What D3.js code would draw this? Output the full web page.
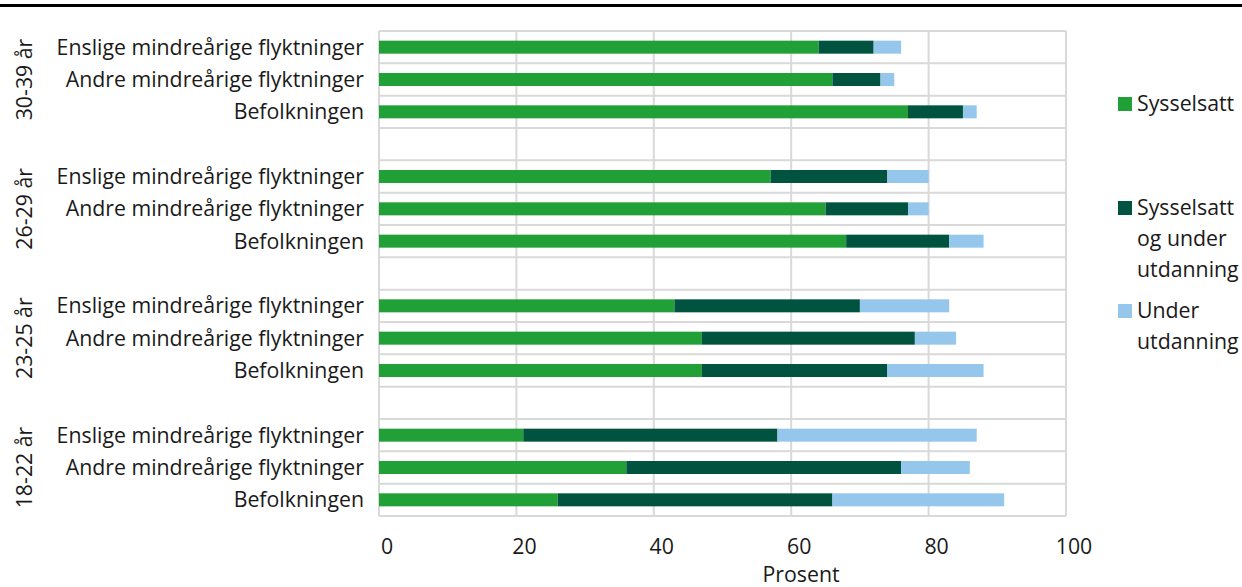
<!DOCTYPE html>
<html><head><meta charset="utf-8">
<script src="https://cdn.jsdelivr.net/npm/d3@7"></script>
<style>body{margin:0;background:#fff;}svg{display:block;font-family:"Open Sans",sans-serif;}</style>
</head><body>
<svg id="c" width="1242" height="587"></svg>
<script>
const groups = ["30-39 år","26-29 år","23-25 år","18-22 år"];
const categories = ["Enslige mindreårige flyktninger","Andre mindreårige flyktninger","Befolkningen"];
const seriesNames = ["Sysselsatt","Sysselsatt og under utdanning","Under utdanning"];
// values per group, in category order
const sysselsatt   = [[64,66,77],[57,65,68],[43,47,47],[21,36,26]];
const sysselsattUtd= [[8,7,8],[17,12,15],[27,31,27],[37,40,40]];
const underUtd     = [[4,2,2],[6,3,5],[13,6,14],[29,10,25]];
const xTicks = [0,20,40,60,80,100];
const colors = ["#21a038","#00543f","#95c6ec"];

const FS=21.3;
const svg = d3.select("#c");
// top rule
svg.append("rect").attr("x",0).attr("y",4).attr("width",1242).attr("height",3).attr("fill","#000");

const pL=379, pR=1066, pT=31, pB=516;
const x = d3.scaleLinear().domain([0,100]).range([pL,pR]);
// slots: 3 rows per group + blank separator
const slots=[];
groups.forEach((g,gi)=>{
  categories.forEach((c,ci)=>slots.push({id:g+"|"+c,g:gi,c:ci}));
  if(gi<groups.length-1) slots.push({id:"blank"+gi,blank:true});
});
const y = d3.scaleBand().domain(slots.map(s=>s.id)).range([pT,pB]).paddingInner(0).paddingOuter(0);
const bh=13;

const grid=svg.append("g").attr("stroke","#d9d9d9").attr("stroke-width",2);
const hLines=[pT].concat(slots.map(s=>y(s.id)+y.bandwidth()));
hLines.forEach(v=>grid.append("line").attr("x1",pL).attr("x2",pR).attr("y1",v).attr("y2",v));
xTicks.forEach(t=>grid.append("line").attr("x1",x(t)).attr("x2",x(t)).attr("y1",pT).attr("y2",pB));

const data=[];
slots.filter(s=>!s.blank).forEach(s=>{
  const vals=[sysselsatt[s.g][s.c],sysselsattUtd[s.g][s.c],underUtd[s.g][s.c]];
  let acc=0;
  vals.forEach((v,k)=>{data.push({id:s.id,x0:acc,x1:acc+v,k});acc+=v;});
});
svg.append("g").selectAll("rect").data(data).join("rect")
  .attr("x",d=>x(d.x0)).attr("width",d=>x(d.x1)-x(d.x0))
  .attr("y",d=>y(d.id)+y.bandwidth()/2-bh/2).attr("height",bh)
  .attr("fill",d=>colors[d.k]);

// category labels
svg.append("g").selectAll("text").data(slots.filter(s=>!s.blank)).join("text")
  .attr("x",364).attr("y",d=>y(d.id)+y.bandwidth()/2).attr("dy","0.35em")
  .attr("text-anchor","end").attr("font-size",FS).attr("fill","#1a1a1a")
  .text(d=>categories[d.c]);

// group labels
groups.forEach((g,gi)=>{
  const a=y(g+"|"+categories[0]), b=y(g+"|"+categories[2])+y.bandwidth();
  const cy=(a+b)/2;
  svg.append("text").attr("transform",`translate(25,${cy}) rotate(-90)`)
    .attr("text-anchor","middle").attr("dy","0.35em").attr("font-size",FS).attr("fill","#1a1a1a").text(g);
});

// x axis labels
svg.append("g").selectAll("text").data(xTicks).join("text")
  .attr("x",d=>x(d)+8).attr("y",547).attr("dy","0.35em").attr("text-anchor","middle")
  .attr("font-size",FS).attr("fill","#1a1a1a").text(d=>d);
svg.append("text").attr("x",801).attr("y",575).attr("dy","0.35em").attr("text-anchor","middle")
  .attr("font-size",FS).attr("fill","#1a1a1a").text("Prosent");

// legend
const legend=[
  {k:0,lines:["Sysselsatt"],y:104},
  {k:1,lines:["Sysselsatt","og under","utdanning"],y:208},
  {k:2,lines:["Under","utdanning"],y:311}
];
legend.forEach(l=>{
  svg.append("rect").attr("x",1118).attr("y",l.y-7).attr("width",14).attr("height",14).attr("fill",colors[l.k]);
  const t=svg.append("text").attr("x",1137).attr("y",l.y).attr("font-size",FS).attr("fill","#1a1a1a");
  l.lines.forEach((s,i)=>t.append("tspan").attr("x",1137).attr("dy",i===0?"0.35em":31).text(s));
});
</script>
</body></html>
